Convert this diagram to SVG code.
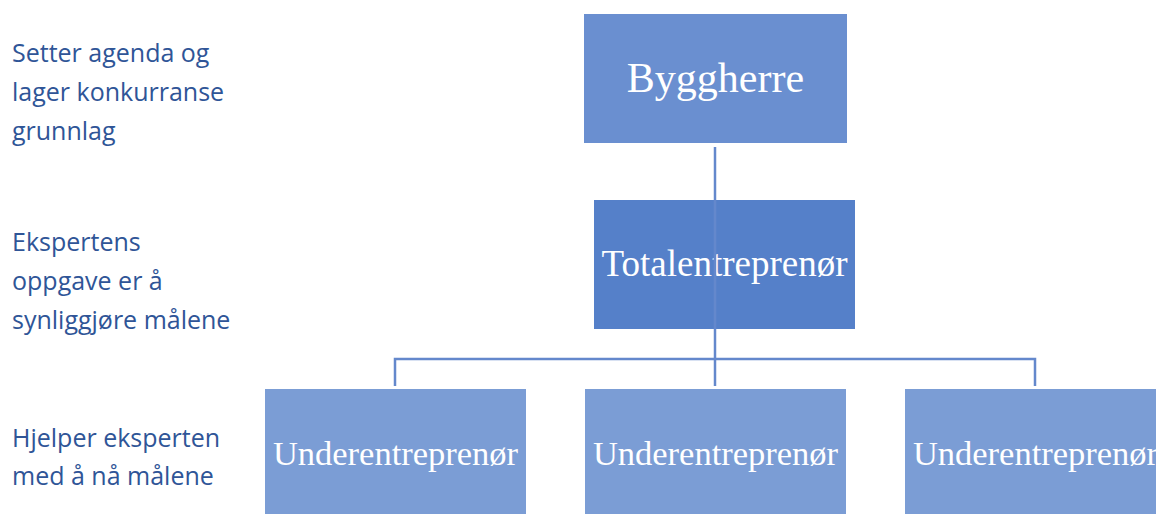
<svg xmlns="http://www.w3.org/2000/svg" width="1156" height="514" viewBox="0 0 1156 514">
<style>
.lbl{font-family:"Open Sans","Liberation Sans",sans-serif;font-size:25px;fill:#2f5597}
.nt{font-family:"Liberation Serif","Times New Roman",serif;fill:#ffffff;text-anchor:middle}
.con{stroke:#6488cc;stroke-width:2.5;fill:none}
</style>
<rect width="1156" height="514" fill="#ffffff"/>
<g id="labels">
<text class="lbl" x="12" y="62">Setter agenda og</text>
<text class="lbl" x="12" y="101">lager konkurranse</text>
<text class="lbl" x="12" y="140">grunnlag</text>
<text class="lbl" x="12" y="251">Ekspertens</text>
<text class="lbl" x="12" y="290">oppgave er å</text>
<text class="lbl" x="12" y="329">synliggjøre målene</text>
<text class="lbl" x="12" y="447">Hjelper eksperten</text>
<text class="lbl" x="12" y="485">med å nå målene</text>
</g>
<g id="byggherre">
<rect x="584" y="14" width="263" height="129" fill="#6a8fd0"/>
<text class="nt" x="715.5" y="92" font-size="42">Byggherre</text>
</g>
<g id="totalentreprenor">
<rect x="594" y="200" width="261" height="129" fill="#5580c9"/>
<text class="nt" x="724.5" y="276" font-size="37">Totalentreprenør</text>
</g>
<g id="under1">
<rect x="265" y="389" width="261" height="130" fill="#7b9dd5"/>
<text class="nt" x="395.5" y="465" font-size="34.5">Underentreprenør</text>
</g>
<g id="under2">
<rect x="585" y="389" width="261" height="130" fill="#7b9dd5"/>
<text class="nt" x="715.5" y="465" font-size="34.5">Underentreprenør</text>
</g>
<g id="under3">
<rect x="905" y="389" width="261" height="130" fill="#7b9dd5"/>
<text class="nt" x="1035.5" y="465" font-size="34.5">Underentreprenør</text>
</g>
<g id="connectors">
<path class="con" d="M715 147 V359"/>
<path class="con" d="M395 386 V359 H1035 V386"/>
<path class="con" d="M715 359 V386"/>
</g>
</svg>
